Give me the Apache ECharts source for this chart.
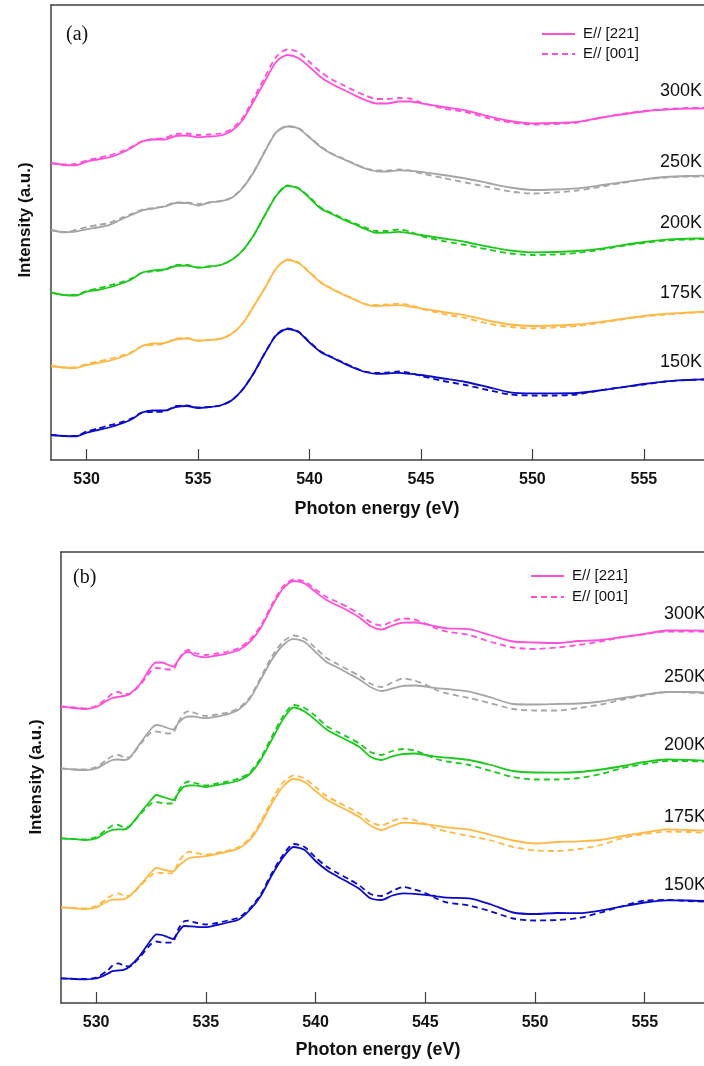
<!DOCTYPE html>
<html>
<head>
<meta charset="utf-8">
<script src="https://cdn.jsdelivr.net/npm/echarts@6/dist/echarts.min.js"></script>
<style>
html,body{margin:0;padding:0;background:#fff;}
#c{width:704px;height:1066px;}
</style>
</head>
<body>
<div id="c"></div>
<script>
// ---------- DATA (intensity in arbitrary units, curves stacked with offsets as in the figure) ----------
const energyA = [528.4,529,529.5,530,530.5,531,531.5,532,532.5,533,533.5,534,534.5,535,535.5,536,536.5,537,537.5,538,538.5,539,539.5,540,540.5,541,541.5,542,542.5,543,543.5,544,544.5,545,546,547,548,549,550,551,552,553,554,555,556,557,557.7];
const energyB = [528.4,529,529.5,530,530.5,530.75,531,531.25,531.5,532,532.5,532.75,533,533.25,533.5,533.75,534,534.25,534.5,535,535.5,536,536.5,537,537.5,538,538.5,539,539.5,540,540.5,541,541.5,542,542.5,543,543.5,544,544.5,545,545.5,546,547,548,549,550,551,552,553,554,555,556,557,557.7];
const temperatures = ['300K','250K','200K','175K','150K'];
const polarizations = ['E// [221]','E// [001]'];
const xTicks = [530,535,540,545,550,555];

// panel (a)
const a300_221 = [297,295,294.7,298.3,300.5,302.5,306.5,312,318.5,320.5,320.5,324,324.5,322.7,323.5,324.5,329,340,359,379,398,405,402,393,383,376,370.5,365,360,356.5,356.5,358.5,358.5,356.7,353,349.7,344,339,336.7,337,338,342,345.5,348.5,350.3,351.3,351.7];
const a300_001 = [297,295.5,296,299.5,302,304.5,308,313,319,321,322,326,326.5,325,325.5,326.5,331,342,362,383,403,410.5,408,398,388,380.5,375,369.5,364.5,361,361,362,361.5,357.5,351.5,348,342,337.5,335.5,336,337.5,342,346,349,351,352,352.3];
const a250_221 = [230,227.7,228.5,230.7,232.5,234.8,240,245,249.7,251.5,253.5,257,257,254.5,257.5,258.7,262,272,288,308.5,327.5,333.5,331.5,322.5,313,306,301,296,291.5,288.7,288.5,289.7,289.3,288,285,281.5,277,272.5,270,270.5,271.7,274.5,277.7,280.7,283,284,284.3];
const a250_001 = [230,228,230,233,235,237,241.5,246,250.5,252,254,257.5,257.5,256,257.5,259,262.5,272.5,288.5,309,328,334,332,323,313.5,306.5,301.5,296.5,292,289.5,289.5,290.5,289.5,286.5,282,277.5,273,268.5,266.5,267.5,269.5,273,277,280.5,282.5,283.5,283.5];
const a200_221 = [167.5,165,164.5,168.3,170,172.5,176,180.5,187.5,189.7,190.5,194,194.5,192.3,193.5,195,200,209.5,225,245,264,274,271.5,262,251.5,246,240.5,236,231,227.2,227.3,228.2,226.8,225,221.5,218,213.5,209.5,207.7,208,209,211.2,214.7,218,220.3,221.3,221.7];
const a200_001 = [167.5,165,165,169,171.5,174.5,177.5,181.5,187.5,188.7,190,195,195,192.5,193.5,195,200,209.5,225,245,264.5,274.5,272,263,252.5,247,241.5,237,232.5,229,229,230.5,228.5,224,219,215,210.5,206.5,205,205.5,207,210,214,217,219.5,220.5,221];
const a175_221 = [94,92.5,92,95,97,99,102.5,107,114,116.5,117,120.5,121.5,119.2,120,121.2,126,136.5,154,172,191.5,200,197,187.5,177.5,171,165.5,160.5,155.7,154,154.5,154.8,153.5,151.7,148,144.7,139.5,135.5,134,134.5,135.5,137.8,141,144,146.3,147.5,148.3];
const a175_001 = [94,92.5,92.5,96,98.5,101,104,108,114,115,116.5,121.5,122,119.5,120,121.2,126,136.5,154,172,191.5,200.5,197.5,188,178,171.5,166,161,156,155,155.5,156.3,155,151.5,146,142,136.5,133,131.7,132.5,134,137,140.5,143.5,145.5,147,148];
const a150_221 = [25,24,23.7,27.3,30,32.5,36,40.5,47.5,49.5,49.5,53,54,52,53,54.5,59.5,70.5,87,107,124.5,131,128,117.5,108,102.5,97,92,88,86.2,86.5,87.2,86.2,85,81.5,78,73,67.7,66.7,66.7,67,69.5,72.7,76,78.7,80,80.7];
const a150_001 = [25,24,24,28.5,31.5,34.5,37.5,41.5,47.5,48,48.5,54,54.5,52.5,53,54.5,59.5,70.5,87,107,125,131.5,128.5,118,108.5,103,97.5,92.5,88.5,87,87.5,88.5,87,84,79,75,70,65.5,64.5,64.5,65.5,69.5,72.7,75.5,78.5,80,80.5];

// panel (b)
const b300_221 = [296.5,295,294,296,302.5,305,306,307,308.5,319,336,340.5,340.5,338.5,336.5,343,349.5,351,347.5,345.7,347.5,349.7,353,361,375,396,414,422,419.5,411,403,397.5,392,385.5,377,373.5,377.5,380.3,380.5,379,376.5,374.7,373.8,367.5,361.5,360.5,360,362,363,366,369,372.5,372.5,372.3];
const b300_001 = [296.5,295.5,294.5,297,305,309.5,311,309,309,318,332,335,334.5,333.5,333.5,343,351,353,350,348,349.5,351.5,355,363,377,398,416,423.5,421.5,413.5,406,401,395.5,389,381,377.5,381.5,384.5,383.5,379.5,374.5,371.3,368,361,355.5,354,355.5,358,361.5,366,369,371.5,371.5,371.3];
const b250_221 = [234.7,233.5,233,234.5,240.5,243,243.5,243,244.5,259.5,274,278,277,275,273.5,280,285,286.5,286.3,284.8,286.5,288.8,293.5,304,323.5,343,357.5,364.2,361,351,341,335.5,329.5,323.5,316,312,314.5,317.2,317.5,316.5,314.8,314,311.4,305.5,299,298.5,299,299.5,301.5,305,308.3,311,311,310.7];
const b250_001 = [234.7,233.5,233.5,236,243.5,247,248,246,245.5,258.5,270.5,271.5,270.5,269.5,270,281,289.5,292,290,287,288.5,290.5,295,305.5,325.5,346,361,367.5,364.5,355,345,339,333,327,319.5,316,320.5,324.5,322.5,318.5,313,309.5,305,299.5,294,292.5,292.5,295,298.5,303.5,307.5,311,310.5,309.7];
const b200_221 = [164.7,163.8,163,164.5,171,173.2,173.7,173.5,176,189.5,203,208,206.3,204.7,203,210,216.3,217.5,217.7,216,218,219.8,222.5,229,243,263,283,295.5,291.5,283,273.5,267.5,262,256,246.3,243,246.7,249,249.5,248,246.4,245.3,243,238,232,230.5,230.4,231,233.5,237,241,243.5,243.2,242.3];
const b200_001 = [164.7,164,163.5,166,174,177.5,178,176,176.5,188.5,199.5,201,200,199.5,199.5,212,219.5,221.5,220,217.5,219.5,221.5,224.5,230.5,245,266,286,298,295,287,277,271,265.5,259.5,251,248,252,254,252.5,248.5,244,241.5,238,232,226,223.5,223.5,225,229,235,239,242,242,241.3];
const b175_221 = [95.7,94.7,93.8,95.5,101.5,103.3,103.5,103.7,106.5,117.7,130.5,135.2,133.7,132.5,131.5,137,141.5,145,145.8,146.8,149,151.4,154.5,163,178.7,199.5,216,224,221,212,203.5,197.5,192,186,177.5,173,177,180.3,180,178.8,177.3,175.7,173.4,168,162.5,159.5,161,161.7,163,167,170.5,173.7,173,172.3];
const b175_001 = [95.7,95,94.5,97,104.5,108,109.7,107.5,107,117,127.5,130.5,130,129.7,130,140.5,148,151.3,150,148.5,150,152.5,156,164.5,181,202.5,220,227.5,224.5,216,207,201,195.5,189.5,181,177.5,182,184.7,183,179,174.5,171.3,167,162.5,156,152.5,152,154,158,165,169,171.3,171,170.3];
const b150_221 = [24.7,24,23.7,24.5,29,31.8,32.5,33.2,36,47.5,63,68.7,68,66,64,71,77,76.7,76.3,75.8,78,80.5,83.5,93,107,127.5,145,156,153,142,133,126.5,120.5,114,104.7,103,107.5,109.7,109.2,108.2,106.7,105.3,104.7,98.5,90.5,89,90,89.8,92.5,96.7,100.5,102.7,102.5,102];
const b150_001 = [24.7,24.2,24,25.5,32,37.5,39.7,37.5,36.5,46,59,61.5,60.5,60.3,61,74,81.5,82.3,80.5,78.5,80,82.5,85.5,94.5,108.5,129.5,147.5,159,156,145.5,136.5,130,124,117.5,109,107,112,116,113.5,110,104.5,100.5,97.5,91.5,84.5,82.5,83,85,90.5,97,102.5,103,102,101.3];

// ---------- STYLE ----------
const colors = ['#ff4fd8','#a5a5a5','#1ec81e','#ffb845','#0a0ac8'];
const panelA = [[a300_221,a300_001],[a250_221,a250_001],[a200_221,a200_001],[a175_221,a175_001],[a150_221,a150_001]];
const panelB = [[b300_221,b300_001],[b250_221,b250_001],[b200_221,b200_001],[b175_221,b175_001],[b150_221,b150_001]];

const axisColor = '#404040';
const DASH = [6, 4];

// detect a narrow sans font (Helvetica-Narrow look of the original)
function hasFont(name) {
  const c = document.createElement('canvas').getContext('2d');
  c.font = 'bold 40px monospace';
  const w0 = c.measureText('5305305 Photon').width;
  c.font = 'bold 40px "' + name + '", monospace';
  const w1 = c.measureText('5305305 Photon').width;
  return Math.abs(w0 - w1) > 1;
}
const NARROW = hasFont('Liberation Sans Narrow');
const FN = NARROW ? '"Liberation Sans Narrow", "Liberation Sans", sans-serif' : '"Liberation Sans", Arial, sans-serif';
const SZ = NARROW
  ? { tick: 20, title: 22, ytitle: 21, temp: 22, legend: 17 }
  : { tick: 16, title: 18, ytitle: 17, temp: 18, legend: 15 };

function mkSeries(panel, energies, xIdx, yIdx) {
  const out = [];
  panel.forEach((pair, ti) => {
    pair.forEach((vals, pi) => {
      out.push({
        type: 'line',
        name: temperatures[ti] + ' ' + polarizations[pi],
        xAxisIndex: xIdx, yAxisIndex: yIdx,
        data: energies.map((e, i) => [e, vals[i]]),
        symbol: 'none', showSymbol: false, smooth: 0.25,
        silent: true,
        z: pi === 0 ? 3 : 2,
        lineStyle: { color: colors[ti], width: 1.8, type: pi === 0 ? 'solid' : DASH }
      });
    });
  });
  return out;
}

function bottomAxis(gi) {
  return {
    type: 'value', gridIndex: gi, min: 528.4, max: 557.7, position: 'bottom',
    axisLine: { show: true, onZero: false, lineStyle: { color: axisColor, width: 1.5 } },
    axisTick: { show: true, inside: true, length: 11, customValues: xTicks, lineStyle: { color: axisColor, width: 1.2 } },
    axisLabel: { show: true, margin: 12, customValues: xTicks, color: '#111', fontSize: SZ.tick, fontWeight: 'bold', fontFamily: FN },
    splitLine: { show: false }
  };
}
function topAxis(gi) {
  return {
    type: 'value', gridIndex: gi, min: 528.4, max: 557.7, position: 'top',
    axisLine: { show: true, onZero: false, lineStyle: { color: axisColor, width: 1.5 } },
    axisTick: { show: false }, axisLabel: { show: false }, splitLine: { show: false }
  };
}
function leftAxis(gi, max) {
  return {
    type: 'value', gridIndex: gi, min: 0, max: max,
    axisLine: { show: true, onZero: false, lineStyle: { color: axisColor, width: 1.5 } },
    axisTick: { show: false }, axisLabel: { show: false }, splitLine: { show: false }
  };
}

function txt(text, x, y, opts) {
  return {
    type: 'text', x: x, y: y, silent: true,
    style: Object.assign({ text: text, fill: '#111', font: SZ.temp + 'px ' + FN, textAlign: 'left', textVerticalAlign: 'middle' }, opts || {})
  };
}
function seg(x1, x2, y, color, dashed) {
  return {
    type: 'line', silent: true, z: 10,
    shape: { x1: x1, y1: y, x2: x2, y2: y },
    style: { stroke: color, lineWidth: 1.8, lineDash: dashed ? DASH : null }
  };
}

const tempPosA = [91, 162, 223, 293, 362];
const tempPosB = [614, 677.5, 745.5, 817.5, 885.5];

const graphics = [];
temperatures.forEach((t, i) => {
  graphics.push(txt(t, 702, tempPosA[i], { textAlign: 'right' }));
  graphics.push(txt(t, 664, tempPosB[i], { textAlign: 'left' }));
});
graphics.push(txt('(a)', 66, 35, { font: '20px "Liberation Serif", "Times New Roman", serif' }));
graphics.push(txt('(b)', 73, 578, { font: '20px "Liberation Serif", "Times New Roman", serif' }));
graphics.push(txt('Photon energy (eV)', 377, 509, { textAlign: 'center', font: 'bold ' + SZ.title + 'px ' + FN }));
graphics.push(txt('Photon energy (eV)', 378, 1050, { textAlign: 'center', font: 'bold ' + SZ.title + 'px ' + FN }));
graphics.push({ type: 'text', x: 25, y: 220, rotation: Math.PI / 2, silent: true,
  style: { text: 'Intensity (a.u.)', fill: '#111', font: 'bold ' + SZ.ytitle + 'px ' + FN, textAlign: 'center', textVerticalAlign: 'middle' } });
graphics.push({ type: 'text', x: 36, y: 777, rotation: Math.PI / 2, silent: true,
  style: { text: 'Intensity (a.u.)', fill: '#111', font: 'bold ' + SZ.ytitle + 'px ' + FN, textAlign: 'center', textVerticalAlign: 'middle' } });

// legends (drawn as line samples + text)
graphics.push(seg(542, 575, 34, colors[0], false));
graphics.push(seg(542, 575, 54, colors[0], true));
graphics.push(txt(polarizations[0], 583, 34, { font: SZ.legend + 'px ' + FN }));
graphics.push(txt(polarizations[1], 583, 54, { font: SZ.legend + 'px ' + FN }));
graphics.push(seg(531, 564, 576, colors[0], false));
graphics.push(seg(531, 564, 597, colors[0], true));
graphics.push(txt(polarizations[0], 572, 576, { font: SZ.legend + 'px ' + FN }));
graphics.push(txt(polarizations[1], 572, 597, { font: SZ.legend + 'px ' + FN }));

const chart = echarts.init(document.getElementById('c'), null, { renderer: 'canvas' });
chart.setOption({
  animation: false,
  backgroundColor: '#fff',
  grid: [
    { left: 51, top: 5, width: 653, height: 455 },
    { left: 61, top: 552, width: 643, height: 451 }
  ],
  xAxis: [bottomAxis(0), topAxis(0), bottomAxis(1), topAxis(1)],
  yAxis: [leftAxis(0, 455), leftAxis(1, 451)],
  graphic: graphics,
  series: mkSeries(panelA, energyA, 0, 0).concat(mkSeries(panelB, energyB, 2, 1))
});
</script>
</body>
</html>
